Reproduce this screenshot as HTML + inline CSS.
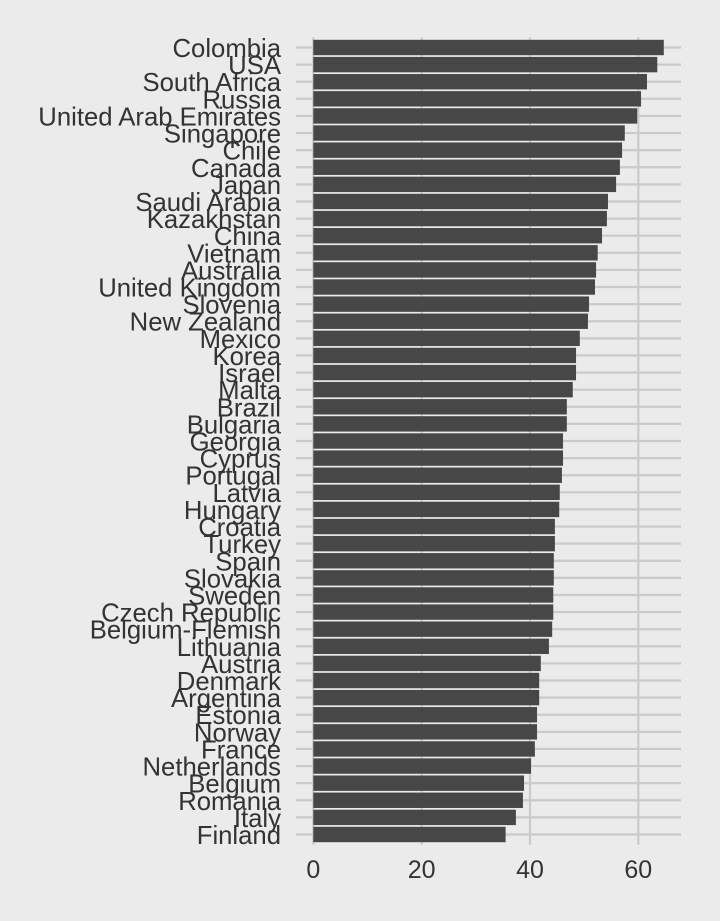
<!DOCTYPE html>
<html><head><meta charset="utf-8"><style>
html,body{margin:0;padding:0;background:#ebebeb;}
svg{display:block;}
text{font-family:"Liberation Sans",sans-serif;fill:#333;}
</style></head><body>
<svg id="chart" width="720" height="921" xmlns="http://www.w3.org/2000/svg">
<rect x="0" y="0" width="720" height="921" fill="#ebebeb"/>
<g id="grid"></g><g id="bars"></g><g id="ylabels"></g><g id="xlabels"></g>
</svg>
<script>
const countries = ["Colombia","USA","South Africa","Russia","United Arab Emirates","Singapore","Chile","Canada","Japan","Saudi Arabia","Kazakhstan","China","Vietnam","Australia","United Kingdom","Slovenia","New Zealand","Mexico","Korea","Israel","Malta","Brazil","Bulgaria","Georgia","Cyprus","Portugal","Latvia","Hungary","Croatia","Turkey","Spain","Slovakia","Sweden","Czech Republic","Belgium-Flemish","Lithuania","Austria","Denmark","Argentina","Estonia","Norway","France","Netherlands","Belgium","Romania","Italy","Finland"];
const values = [64.7,63.5,61.6,60.5,59.8,57.5,57.0,56.6,55.9,54.4,54.2,53.3,52.5,52.2,52.0,50.9,50.7,49.2,48.5,48.5,47.9,46.8,46.8,46.1,46.1,45.9,45.5,45.4,44.6,44.6,44.4,44.4,44.3,44.3,44.1,43.5,42.0,41.7,41.7,41.3,41.3,40.9,40.2,38.9,38.7,37.4,35.5];
const xTicks = [0,20,40,60];

const NS="http://www.w3.org/2000/svg";
const x0=313.3, pxPer=5.417;
const xScale=v=>x0+v*pxPer;
const yTop=47.5, yBot=834.5;
const step=(yBot-yTop)/(countries.length-1);
const yScale=i=>yTop+i*step;
const panelL=296, panelR=681, panelT=yTop-step*0.6, panelB=yBot+step*0.6;
function mk(tag,attrs,parent){const e=document.createElementNS(NS,tag);for(const k in attrs)e.setAttribute(k,attrs[k]);parent.appendChild(e);return e;}
const grid=document.getElementById('grid'),bars=document.getElementById('bars'),yl=document.getElementById('ylabels'),xl=document.getElementById('xlabels');
xTicks.forEach(t=>{
  const l=mk('line',{x1:xScale(t),x2:xScale(t),y1:panelT,y2:panelB,stroke:'#cacaca','stroke-width':2.2},grid);
  
  
  const tx=mk('text',{x:xScale(t),y:878,'text-anchor':'middle','font-size':25},xl);
  tx.textContent=t;
  
  
});
countries.forEach((c,i)=>{
  const y=yScale(i);
  const g=mk('line',{x1:panelL,x2:panelR,y1:y,y2:y,stroke:'#cacaca','stroke-width':2.2},grid);
  
  
  const h=step*0.9;
  const r=mk('rect',{x:xScale(0),y:y-h/2,width:xScale(values[i])-xScale(0),height:h,fill:'#474747'},bars);
  
  
  const t=mk('text',{x:281,y:y+9.5,'text-anchor':'end','font-size':25.7},yl);
  t.textContent=c;
  
  
});
</script>
</body></html>
